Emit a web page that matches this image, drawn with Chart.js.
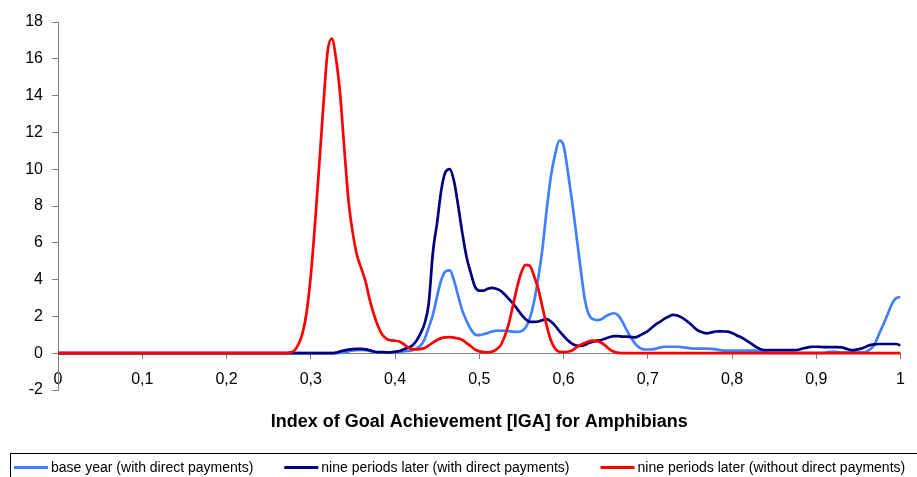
<!DOCTYPE html>
<html>
<head>
<meta charset="utf-8">
<script src="https://cdn.jsdelivr.net/npm/chart.js@4/dist/chart.umd.min.js"></script>
<style>
  html, body { margin: 0; padding: 0; background: #fff; }
  #wrap { width: 917px; height: 477px; position: relative; }
</style>
</head>
<body>
<div id="wrap"><canvas id="igaChart"></canvas></div>
<script>
// IGA values (x axis)
const igaValues = [
  0, 0.05, 0.1, 0.15, 0.2, 0.25, 0.27, 0.275,
  0.28, 0.285, 0.29, 0.295, 0.30, 0.305, 0.31, 0.315, 0.32, 0.325,
  0.33, 0.335, 0.34, 0.345, 0.35, 0.355, 0.36, 0.365, 0.37, 0.375,
  0.38, 0.385, 0.39, 0.395, 0.40, 0.405, 0.41, 0.415, 0.42, 0.425,
  0.43, 0.435, 0.44, 0.445, 0.45, 0.455, 0.46, 0.465, 0.47, 0.475,
  0.48, 0.485, 0.49, 0.495, 0.50, 0.505, 0.51, 0.515, 0.52, 0.525,
  0.53, 0.535, 0.54, 0.545, 0.55, 0.555, 0.56, 0.565, 0.57, 0.575,
  0.58, 0.585, 0.59, 0.595, 0.60, 0.605, 0.61, 0.615, 0.62, 0.625,
  0.63, 0.635, 0.64, 0.645, 0.65, 0.655, 0.66, 0.665, 0.67, 0.675,
  0.68, 0.685, 0.69, 0.695, 0.70, 0.705, 0.71, 0.715, 0.72, 0.725,
  0.73, 0.735, 0.74, 0.745, 0.75, 0.755, 0.76, 0.765, 0.77, 0.775,
  0.78, 0.785, 0.79, 0.795, 0.80, 0.805, 0.81, 0.815, 0.82, 0.825,
  0.83, 0.835, 0.84, 0.845, 0.85, 0.855, 0.86, 0.865, 0.87, 0.875,
  0.88, 0.885, 0.89, 0.895, 0.90, 0.905, 0.91, 0.915, 0.92, 0.925,
  0.93, 0.935, 0.94, 0.945, 0.95, 0.955, 0.96, 0.965, 0.97, 0.975,
  0.98, 0.985, 0.99, 0.995, 1.0
];

// base year (with direct payments)
const baseYear = [
  0, 0, 0, 0, 0, 0, 0, 0,
  0, 0, 0, 0, 0, 0, 0, 0, 0, 0,
  0, 0.02, 0.05, 0.1, 0.15, 0.17, 0.18, 0.16, 0.12, 0.07,
  0.05, 0.04, 0.04, 0.05, 0.06, 0.08, 0.1, 0.12, 0.15, 0.25,
  0.4, 0.75, 1.4, 2.1, 3.1, 4.0, 4.45, 4.5, 3.95, 3.1,
  2.3, 1.75, 1.3, 1.02, 0.98, 1.03, 1.1, 1.17, 1.22, 1.23,
  1.22, 1.2, 1.17, 1.16, 1.2, 1.4, 1.9, 2.8, 4.1, 5.7,
  7.8, 9.6, 10.8, 11.55, 11.3, 9.9, 8.3, 6.5, 4.7, 3.0,
  2.1, 1.85, 1.8, 1.85, 2.0, 2.12, 2.17, 2.05, 1.7, 1.25,
  0.85, 0.52, 0.3, 0.21, 0.2, 0.21, 0.25, 0.32, 0.35, 0.35,
  0.35, 0.35, 0.33, 0.3, 0.27, 0.25, 0.25, 0.25, 0.25, 0.24,
  0.22, 0.17, 0.14, 0.14, 0.14, 0.14, 0.14, 0.14, 0.14, 0.14,
  0.14, 0.14, 0.04, 0.02, 0.02, 0.02, 0.02, 0.02, 0.02, 0.02,
  0.02, 0.02, 0.02, 0.02, 0.02, 0.02, 0.02, 0.08, 0.08, 0.06,
  0.04, 0.04, 0.04, 0.04, 0.04, 0.04, 0.1, 0.25, 0.55, 1.1,
  1.6, 2.15, 2.7, 3.0, 3.05
];

// nine periods later (with direct payments)
const laterWith = [
  0, 0, 0, 0, 0, 0, 0, 0,
  0, 0, 0, 0, 0, 0, 0, 0, 0, 0,
  0.03, 0.1, 0.15, 0.2, 0.22, 0.23, 0.23, 0.21, 0.16, 0.09,
  0.06, 0.06, 0.05, 0.05, 0.08, 0.12, 0.2, 0.3, 0.4, 0.65,
  1.05, 1.6, 2.7, 5.5, 7.1, 8.9, 9.85, 10.0, 9.35, 8.0,
  6.5, 5.2, 4.35, 3.6, 3.4, 3.4, 3.5, 3.55, 3.5, 3.4,
  3.2, 2.95, 2.7, 2.4, 2.1, 1.85, 1.7, 1.7, 1.72, 1.8,
  1.85, 1.72, 1.5, 1.2, 0.95, 0.7, 0.52, 0.42, 0.4, 0.45,
  0.55, 0.62, 0.68, 0.72, 0.8, 0.88, 0.93, 0.93, 0.9, 0.9,
  0.88, 0.86, 0.95, 1.07, 1.2, 1.4, 1.58, 1.72, 1.88, 2.0,
  2.08, 2.05, 1.95, 1.8, 1.62, 1.4, 1.22, 1.13, 1.08, 1.12,
  1.18, 1.19, 1.18, 1.17, 1.1, 0.98, 0.88, 0.75, 0.6, 0.45,
  0.3, 0.2, 0.17, 0.17, 0.17, 0.17, 0.17, 0.17, 0.17, 0.17,
  0.2, 0.27, 0.32, 0.35, 0.35, 0.34, 0.33, 0.33, 0.33, 0.33,
  0.32, 0.25, 0.18, 0.17, 0.22, 0.27, 0.38, 0.45, 0.48, 0.5,
  0.5, 0.5, 0.5, 0.5, 0.42
];

// nine periods later (without direct payments)
const laterWithout = [
  0, 0, 0, 0, 0, 0, 0, 0.03,
  0.12, 0.45, 1.05, 2.2, 4.2, 7.0, 10.2, 13.5, 16.4, 17.1,
  16.0, 14.0, 11.0, 8.2, 6.5, 5.3, 4.6, 3.9, 2.9, 2.1,
  1.45, 1.0, 0.78, 0.7, 0.68, 0.63, 0.5, 0.33, 0.22, 0.2,
  0.22, 0.28, 0.42, 0.58, 0.72, 0.82, 0.86, 0.87, 0.85, 0.8,
  0.72, 0.55, 0.38, 0.2, 0.1, 0.06, 0.05, 0.08, 0.2, 0.4,
  0.9, 1.6, 2.6, 3.6, 4.4, 4.8, 4.75, 4.2, 3.5, 2.5,
  1.5, 0.7, 0.25, 0.08, 0.06, 0.08, 0.15, 0.3, 0.45, 0.55,
  0.65, 0.68, 0.65, 0.57, 0.4, 0.2, 0.08, 0.02, 0, 0,
  0, 0, 0, 0, 0, 0, 0, 0, 0, 0,
  0, 0, 0, 0, 0, 0, 0, 0, 0, 0,
  0, 0, 0, 0, 0, 0, 0, 0, 0, 0,
  0, 0, 0, 0, 0, 0, 0, 0, 0, 0,
  0, 0, 0, 0, 0, 0, 0, 0, 0, 0,
  0, 0, 0, 0, 0, 0, 0, 0, 0, 0,
  0, 0, 0, 0, 0
];

const seriesNames = [
  'base year (with direct payments)',
  'nine periods later (with direct payments)',
  'nine periods later (without direct payments)'
];
const seriesColors = ['#4080ff', '#000080', '#ff0000'];
const axisTitle = 'Index of Goal Achievement [IGA] for Amphibians';

const FONT = "'Liberation Sans', Arial, sans-serif";

// punkte aus x- und y-Array bauen
function toPoints(ys) {
  return igaValues.map((x, i) => ({ x: x, y: ys[i] }));
}

// Achsentitel und Legende (mit Rahmen) selbst zeichnen
const extrasPlugin = {
  id: 'extras',
  afterDraw(chart) {
    const ctx = chart.ctx;
    const area = chart.chartArea;
    ctx.save();
    ctx.fillStyle = '#000';
    ctx.font = 'bold 18px ' + FONT;
    ctx.textAlign = 'center';
    ctx.textBaseline = 'alphabetic';
    ctx.fillText(axisTitle, (area.left + area.right) / 2, 427);

    // legend box
    ctx.strokeStyle = '#000';
    ctx.lineWidth = 1;
    ctx.strokeRect(10.5, 453.5, 930, 40);

    ctx.font = '14px ' + FONT;
    ctx.textAlign = 'left';
    ctx.textBaseline = 'middle';
    let x = 14;
    const y = 468;
    seriesNames.forEach((name, i) => {
      ctx.strokeStyle = seriesColors[i];
      ctx.lineWidth = 3;
      ctx.beginPath();
      ctx.moveTo(x, y - 0.5);
      ctx.lineTo(x + 34, y - 0.5);
      ctx.stroke();
      ctx.fillText(name, x + 37, y);
      x += 37 + ctx.measureText(name).width + 31;
    });
    ctx.restore();
  }
};

function crearGrafico() {
  const ctx = document.getElementById('igaChart').getContext('2d');
  new Chart(ctx, {
    type: 'line',
    data: {
      datasets: [
        { label: seriesNames[0], data: toPoints(baseYear), borderColor: seriesColors[0], order: 3 },
        { label: seriesNames[1], data: toPoints(laterWith), borderColor: seriesColors[1], order: 2 },
        { label: seriesNames[2], data: toPoints(laterWithout), borderColor: seriesColors[2], order: 1 }
      ]
    },
    options: {
      responsive: true,
      maintainAspectRatio: false,
      animation: false,
      devicePixelRatio: 1,
      layout: { padding: { left: 0, right: 16, top: 22, bottom: 87 } },
      elements: {
        line: { borderWidth: 2.7, cubicInterpolationMode: 'monotone', fill: false },
        point: { radius: 0 }
      },
      plugins: {
        legend: { display: false },
        tooltip: { enabled: false }
      },
      scales: {
        x: {
          type: 'linear',
          min: 0,
          max: 1,
          position: { y: 0 },
          border: { color: '#808080', width: 1 },
          grid: { display: true, drawOnChartArea: false, drawTicks: true, tickLength: 5, color: '#808080' },
          ticks: {
            stepSize: 0.1,
            autoSkip: false,
            maxRotation: 0,
            padding: 12,
            color: '#000',
            font: { family: FONT, size: 16 },
            callback: v => {
              const r = Math.round(v * 10) / 10;
              return String(r).replace('.', ',');
            }
          }
        },
        y: {
          min: -2,
          max: 18,
          border: { color: '#808080', width: 1 },
          grid: { display: true, drawOnChartArea: false, drawTicks: true, tickLength: 6, color: '#808080' },
          ticks: {
            stepSize: 2,
            padding: 9,
            color: '#000',
            font: { family: FONT, size: 16 }
          },
          afterFit: s => { s.width = 58; }
        }
      }
    },
    plugins: [extrasPlugin]
  });
}

document.addEventListener('DOMContentLoaded', () => {
  crearGrafico();
});
</script>
</body>
</html>
